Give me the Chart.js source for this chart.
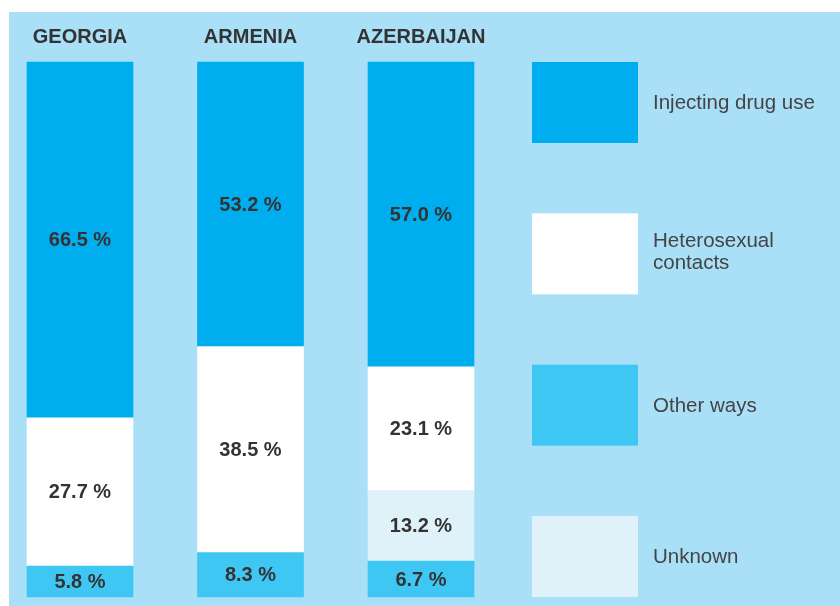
<!DOCTYPE html>
<html>
<head>
<meta charset="utf-8">
<title>HIV transmission routes</title>
<script src="https://cdn.jsdelivr.net/npm/chart.js@4.4.1/dist/chart.umd.min.js"></script>
<style>
  html, body { margin: 0; padding: 0; background: #fff; }
  #wrap { width: 840px; height: 606px; }
</style>
</head>
<body>
<div id="wrap"><canvas id="myChart" width="840" height="606"></canvas></div>
<script>
'use strict';

// data
const countries = ['GEORGIA', 'ARMENIA', 'AZERBAIJAN'];
const injectingDrugUse = [66.5, 53.2, 57.0];
const heterosexualContacts = [27.7, 38.5, 23.1];
const unknownWay = [null, null, 13.2];
const otherWays = [5.8, 8.3, 6.7];

// legend text (top to bottom)
const legendText = [
  ['Injecting drug use'],
  ['Heterosexual', 'contacts'],
  ['Other ways'],
  ['Unknown']
];

const FONT = "'Liberation Sans', Arial, sans-serif";

// light blue panel behind everything
const panelBg = {
  id: 'panelBg',
  beforeDraw(chart) {
    const c = chart.ctx;
    c.save();
    c.fillStyle = '#ffffff';
    c.fillRect(0, 0, chart.width, chart.height);
    c.fillStyle = '#aadff8';
    c.fillRect(9, 12, chart.width - 9, chart.height - 12);
    c.restore();
  }
};

// percent labels inside each segment
const segLabels = {
  id: 'segLabels',
  afterDatasetsDraw(chart) {
    const c = chart.ctx;
    c.save();
    c.font = 'bold 20px ' + FONT;
    c.fillStyle = '#333333';
    c.textAlign = 'center';
    c.textBaseline = 'middle';
    chart.data.datasets.forEach((ds, i) => {
      const meta = chart.getDatasetMeta(i);
      meta.data.forEach((bar, j) => {
        const v = ds.data[j];
        if (v == null) return;
        const p = bar.getProps(['x', 'y', 'base'], true);
        c.fillText(v.toFixed(1) + ' %', p.x, (p.y + p.base) / 2 + 1);
      });
    });
    c.restore();
  }
};

// legend with big boxes on the right
const boxLegend = {
  id: 'boxLegend',
  afterDraw(chart) {
    const c = chart.ctx;
    const order = [3, 2, 0, 1];
    const area = chart.chartArea;
    const boxH = 81;
    const step = (area.bottom - area.top - boxH) / (order.length - 1);
    c.save();
    c.font = '20.5px ' + FONT;
    c.textBaseline = 'middle';
    c.textAlign = 'left';
    order.forEach((dsIndex, k) => {
      const ds = chart.data.datasets[dsIndex];
      const y = area.top + k * step;
      c.fillStyle = ds.backgroundColor;
      c.fillRect(532, y, 106, boxH);
      c.fillStyle = '#444444';
      const lines = legendText[k];
      const lh = 22;
      const y0 = y + boxH / 2 + 1 - (lines.length - 1) * lh / 2 - (lines.length > 1 ? 2 : 0);
      lines.forEach((t, n) => c.fillText(t, 653, y0 + n * lh));
    });
    c.restore();
  }
};

const ctx = document.getElementById('myChart').getContext('2d');

new Chart(ctx, {
  type: 'bar',
  data: {
    labels: countries,
    datasets: [
      { label: 'Other ways', data: otherWays, backgroundColor: '#3fc7f3' },
      { label: 'Unknown', data: unknownWay, backgroundColor: '#dff2fa' },
      { label: 'Heterosexual contacts', data: heterosexualContacts, backgroundColor: '#ffffff' },
      { label: 'Injecting drug use', data: injectingDrugUse, backgroundColor: '#00aeef' }
    ]
  },
  options: {
    responsive: false,
    animation: false,
    layout: {
      padding: { left: 80, right: 419, top: 12, bottom: 9 }
    },
    datasets: {
      bar: { barThickness: 106, borderWidth: 0, clip: false }
    },
    plugins: {
      legend: { display: false },
      tooltip: { enabled: false }
    },
    scales: {
      x: {
        stacked: true,
        position: 'top',
        offset: false,
        grid: { display: false },
        border: { display: false },
        ticks: {
          color: '#333333',
          font: { family: FONT, size: 20, weight: 'bold' },
          padding: 5,
          maxRotation: 0
        },
        afterFit(scale) {
          scale.height = 50;
        }
      },
      y: {
        stacked: true,
        display: false,
        min: 0,
        max: 100
      }
    }
  },
  plugins: [panelBg, segLabels, boxLegend]
});
</script>
</body>
</html>
